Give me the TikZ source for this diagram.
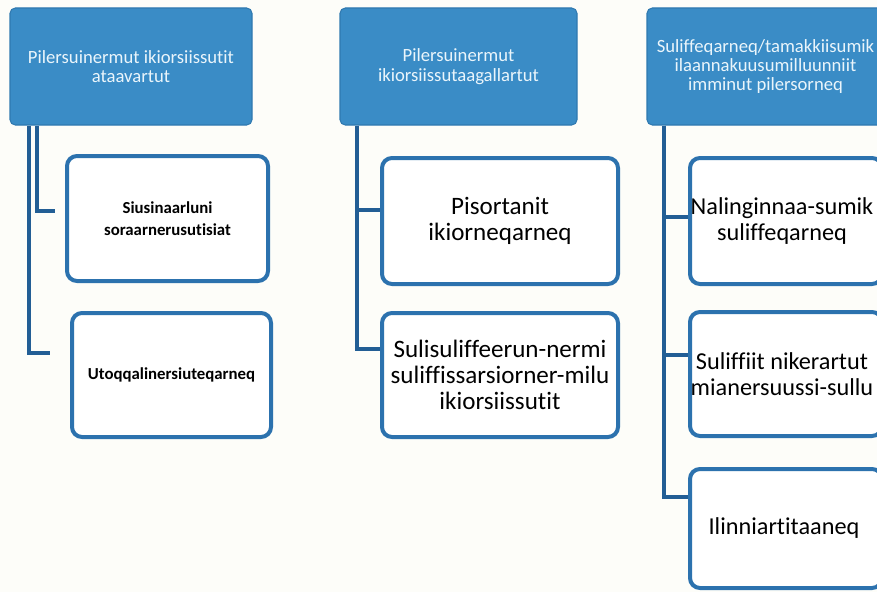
\documentclass[tikz,border=0pt]{standalone}
\usepackage{fontspec}
\setmainfont{Carlito}[Ligatures=NoCommon]
\definecolor{headblue}{HTML}{3A8CC6}
\definecolor{headedge}{HTML}{2F79B0}
\definecolor{headtext}{HTML}{EAF5FB}
\definecolor{boxblue}{HTML}{2C72AE}
\definecolor{connblue}{HTML}{225E95}
\definecolor{bg}{HTML}{FDFDF9}
\begin{document}
\begin{tikzpicture}[x=0.75pt,y=-0.75pt,
  head/.style={fill=headblue, draw=headedge, line width=0.8pt, rounded corners=4pt,
    text=headtext, align=center, font=\fontsize{14}{14.5}\selectfont,
    inner sep=0pt, minimum height=87.75pt, minimum width=178pt},
  child/.style={draw=boxblue, line width=3pt, fill=white, rounded corners=7.5pt,
    align=center, inner sep=0pt, text=black},
  small/.style={font=\bfseries\fontsize{12.6}{17}\selectfont},
  big/.style={font=\fontsize{18.8}{19.5}\selectfont},
  bigc/.style={font=\fontsize{18.2}{19.5}\selectfont},
  conn/.style={draw=connblue, line width=3pt}]
\useasboundingbox (0,0) rectangle (877,592);
\clip (0,0) rectangle (877,592);
\fill[bg] (0,0) rectangle (877,592);

% headers
\node[head, minimum width=181.5pt] (h1) at (131,66.5) {Pilersuinermut ikiorsiissutit\\ataavartut};
\node[head, minimum width=177.75pt] (h2) at (458.5,66.5) {Pilersuinermut\\ikiorsiissutaagallartut};
\node[head, minimum width=177.75pt] (h3) at (765.5,66.5) {Suliffeqarneq/tamakkiisumik\\ilaannakuusumilluunniit\\imminut pilersorneq};

% children column 1
\node[child, small, minimum width=150.75pt, minimum height=93.75pt] (c11) at (167.5,218.5) {Siusinaarluni\\soraarnerusutisiat};
\node[child, small, minimum width=149.25pt, minimum height=93pt] (c12) at (171.5,375) {Utoqqalinersiuteqarneq};

% children column 2
\node[child, big, minimum width=177pt, minimum height=94.5pt] (c21) at (500,221) {Pisortanit\\ikiorneqarneq};
\node[child, big, minimum width=177pt, minimum height=93pt] (c22) at (500,375) {Sulisuliffeerun-nermi\\suliffissarsiorner-milu\\ikiorsiissutit};

% children column 3 (boxes run past the right edge)
\node[child, minimum width=144pt, minimum height=94.5pt] (c31) at (786,221) {};
\node[child, minimum width=144pt, minimum height=93pt] (c32) at (786,374) {};
\node[child, minimum width=144pt, minimum height=89.25pt] (c33) at (786,528.5) {};
\node[bigc, align=center] (t31) at (782,221) {Nalinginnaa-sumik\\suliffeqarneq};
\node[bigc, align=center] (t32) at (782,374) {Suliffiit nikerartut\\mianersuussi-sullu};
\node[bigc, align=center] (t33) at (784,528.5) {Ilinniartitaaneq};

% connectors
\draw[conn, shorten >=7.5pt] ([xshift=21pt]h1.south west) |- ([yshift=5.6pt]c11.west);
\draw[conn, shorten >=15pt] ([xshift=15pt]h1.south west) |- ([yshift=16.5pt]c12.west);
\draw[conn] ([xshift=13.5pt]h2.south west) |- ([yshift=8.25pt]c21.west);
\draw[conn] ([xshift=13.5pt]h2.south west) |- ([yshift=19.5pt]c22.west);
\draw[conn] ([xshift=13.5pt]h3.south west) |- ([yshift=3pt]c31.west);
\draw[conn] ([xshift=13.5pt]h3.south west) |- ([yshift=14.25pt]c32.west);
\draw[conn] ([xshift=13.5pt]h3.south west) |- ([yshift=23.6pt]c33.west);
\end{tikzpicture}
\end{document}
